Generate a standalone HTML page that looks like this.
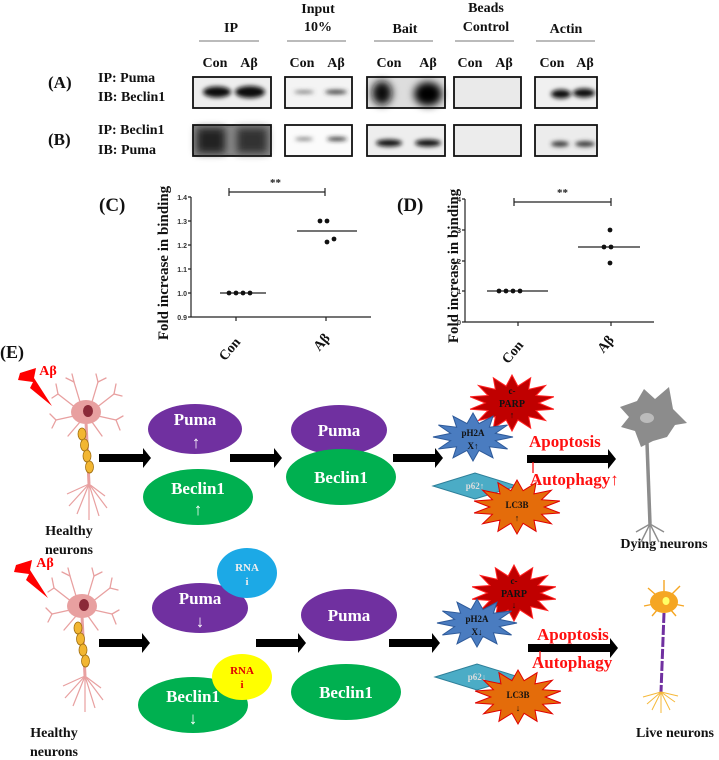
<!DOCTYPE html>
<html><head><meta charset="utf-8"><style>
html,body{margin:0;padding:0;background:#fff;overflow:hidden}
svg{display:block}
text{font-family:"Liberation Serif",serif;font-weight:bold}
</style></head><body>
<svg id="s" width="719" height="760" viewBox="0 0 719 760" xmlns="http://www.w3.org/2000/svg">
<defs>
<filter id="bl" x="-50%" y="-50%" width="200%" height="200%"><feGaussianBlur stdDeviation="2"/></filter>
<filter id="bl2" x="-50%" y="-50%" width="200%" height="200%"><feGaussianBlur stdDeviation="4"/></filter>
</defs>
<g font-size="14" text-anchor="middle" fill="#111">
<text x="231" y="32">IP</text>
<text x="318" y="13">Input</text><text x="318" y="31">10%</text>
<text x="405" y="33">Bait</text>
<text x="486" y="12">Beads</text><text x="486" y="31">Control</text>
<text x="566" y="33">Actin</text>
</g>
<g stroke="#777" stroke-width="1">
<line x1="199" y1="41" x2="259" y2="41"/><line x1="287" y1="41" x2="346" y2="41"/>
<line x1="374" y1="41" x2="433" y2="41"/><line x1="455" y1="41" x2="514" y2="41"/>
<line x1="536" y1="41" x2="595" y2="41"/>
</g>
<g font-size="14" fill="#111" text-anchor="middle">
<text x="215" y="67">Con</text><text x="249" y="67">Aβ</text>
<text x="302" y="67">Con</text><text x="336" y="67">Aβ</text>
<text x="389" y="67">Con</text><text x="428" y="67">Aβ</text>
<text x="470" y="67">Con</text><text x="504" y="67">Aβ</text>
<text x="552" y="67">Con</text><text x="585" y="67">Aβ</text>
</g>
<g font-size="17" fill="#111"><text x="48" y="88">(A)</text><text x="48" y="145">(B)</text></g>
<g font-size="14" fill="#111">
<text x="98" y="82">IP: Puma</text><text x="98" y="101">IB: Beclin1</text>
<text x="98" y="134">IP: Beclin1</text><text x="98" y="154">IB: Puma</text>
</g>
<g stroke="#111" stroke-width="1.8">
<rect x="193" y="77" width="78" height="31" fill="#eee"/>
<rect x="285" y="77" width="67" height="31" fill="#f4f4f4"/>
<rect x="367" y="77" width="78" height="31" fill="#ddd"/>
<rect x="454" y="77" width="67" height="31" fill="#eaeaea"/>
<rect x="535" y="77" width="62" height="31" fill="#f0f0f0"/>
<rect x="193" y="125" width="78" height="31" fill="#888"/>
<rect x="285" y="125" width="67" height="31" fill="#fbfbfb"/>
<rect x="367" y="125" width="78" height="31" fill="#eee"/>
<rect x="454" y="125" width="67" height="31" fill="#ececec"/>
<rect x="535" y="125" width="62" height="31" fill="#ececec"/>
</g>
<g fill="#111" filter="url(#bl)">
<ellipse cx="217" cy="92" rx="14" ry="5.5"/><ellipse cx="250" cy="92" rx="15" ry="6"/>
<ellipse cx="304" cy="92" rx="10" ry="1.3" fill="#555"/><ellipse cx="336" cy="92" rx="11" ry="2" fill="#333"/>
<ellipse cx="561" cy="94" rx="10" ry="4.5"/><ellipse cx="584" cy="93" rx="11" ry="4.5"/>
<ellipse cx="389" cy="143" rx="13" ry="3.5"/><ellipse cx="428" cy="143" rx="13" ry="3.5"/>
<ellipse cx="304" cy="139" rx="9" ry="1.3" fill="#555"/><ellipse cx="337" cy="139" rx="10" ry="1.8" fill="#222"/>
<ellipse cx="560" cy="144" rx="9" ry="2.7" fill="#333"/><ellipse cx="585" cy="144" rx="10" ry="2.7" fill="#333"/>
</g>
<g filter="url(#bl2)">
<ellipse cx="382" cy="93" rx="10" ry="12" fill="#111"/><ellipse cx="428" cy="94" rx="14" ry="12" fill="#000"/>
<rect x="197" y="128" width="28" height="25" fill="#222"/><rect x="237" y="128" width="30" height="25" fill="#333"/>
</g>
<g font-size="7" fill="#333" text-anchor="end">
<text x="187" y="200" style="font-family:'Liberation Sans'">1.4</text>
<text x="187" y="224" style="font-family:'Liberation Sans'">1.3</text>
<text x="187" y="248" style="font-family:'Liberation Sans'">1.2</text>
<text x="187" y="272" style="font-family:'Liberation Sans'">1.1</text>
<text x="187" y="296" style="font-family:'Liberation Sans'">1.0</text>
<text x="187" y="320" style="font-family:'Liberation Sans'">0.9</text>
<text x="461" y="202" style="font-family:'Liberation Sans'">4</text>
<text x="461" y="233" style="font-family:'Liberation Sans'">3</text>
<text x="461" y="264" style="font-family:'Liberation Sans'">2</text>
<text x="461" y="294" style="font-family:'Liberation Sans'">1</text>
<text x="461" y="325" style="font-family:'Liberation Sans'">0</text>
</g>
<g stroke="#222" stroke-width="1.2" fill="none">
<path d="M191 197V317H371M188 197h3M188 221h3M188 245h3M188 269h3M188 293h3M188 317h3M236 317v4M326 317v4"/>
<path d="M220 293H266M297 231H357M229 188v8M229 192H325M325 188v8"/>
<path d="M465 199V322H654M462 199h3M462 230h3M462 261h3M462 291h3M462 322h3M518 322v4M611 322v4"/>
<path d="M487 291H548M578 247H640M514 198v8M514 202H611M611 198v8"/>
</g>
<g fill="#111">
<circle cx="229" cy="293" r="2.4"/><circle cx="236" cy="293" r="2.4"/><circle cx="243" cy="293" r="2.4"/><circle cx="250" cy="293" r="2.4"/>
<circle cx="320" cy="221" r="2.4"/><circle cx="327" cy="221" r="2.4"/><circle cx="327" cy="242" r="2.4"/><circle cx="334" cy="239" r="2.4"/>
<circle cx="499" cy="291" r="2.4"/><circle cx="506" cy="291" r="2.4"/><circle cx="513" cy="291" r="2.4"/><circle cx="520" cy="291" r="2.4"/>
<circle cx="610" cy="230" r="2.4"/><circle cx="604" cy="247" r="2.4"/><circle cx="611" cy="247" r="2.4"/><circle cx="610" cy="263" r="2.4"/>
</g>
<g font-size="11" fill="#222"><text x="270" y="186">**</text><text x="557" y="196">**</text></g>
<g font-size="19" fill="#111"><text x="99" y="211">(C)</text><text x="397" y="211">(D)</text></g>
<g fill="#111" text-anchor="middle">
<text font-size="15" transform="translate(168 263) rotate(-90)">Fold increase in binding</text>
<text font-size="15" transform="translate(458 266) rotate(-90)">Fold increase in binding</text>
<text font-size="14" transform="translate(233 352) rotate(-50)">Con</text>
<text font-size="14" transform="translate(325 345) rotate(-50)">Aβ</text>
<text font-size="14" transform="translate(516 355) rotate(-50)">Con</text>
<text font-size="14" transform="translate(609 347) rotate(-50)">Aβ</text>
</g>
<text x="0" y="358" font-size="18" fill="#111">(E)</text>
<g fill="#000">
<path d="M99 454h44v-6l8 10-8 10v-6h-44z"/>
<path d="M230 454h44v-6l8 10-8 10v-6h-44z"/>
<path d="M393 454h42v-6l8 10-8 10v-6h-42z"/>
<path d="M527 455h81v-6l8 10-8 10v-6h-81z"/>
<path d="M99 639h43v-6l8 10-8 10v-6h-43z"/>
<path d="M256 639h42v-6l8 10-8 10v-6h-42z"/>
<path d="M389 639h43v-6l8 10-8 10v-6h-43z"/>
<path d="M528 644h82v-6l8 10-8 10v-6h-82z"/>
</g>
<ellipse cx="195" cy="429" rx="47" ry="25" fill="#7030a0"/>
<ellipse cx="198" cy="497" rx="55" ry="28" fill="#00b050"/>
<ellipse cx="339" cy="430" rx="48" ry="25" fill="#7030a0"/>
<ellipse cx="341" cy="477" rx="55" ry="28" fill="#00b050"/>
<g fill="#fff" font-size="17" text-anchor="middle">
<text x="195" y="425">Puma</text><text x="196" y="448">↑</text>
<text x="198" y="494">Beclin1</text><text x="198" y="515">↑</text>
<text x="339" y="436">Puma</text><text x="341" y="483">Beclin1</text>
</g>
<ellipse cx="200" cy="608" rx="48" ry="25" fill="#7030a0"/>
<ellipse cx="193" cy="705" rx="55" ry="28" fill="#00b050"/>
<ellipse cx="349" cy="615" rx="48" ry="26" fill="#7030a0"/>
<ellipse cx="346" cy="692" rx="55" ry="28" fill="#00b050"/>
<ellipse cx="247" cy="573" rx="30" ry="25" fill="#1ca9e6"/>
<ellipse cx="242" cy="677" rx="30" ry="23" fill="#ffff00"/>
<g fill="#fff" font-size="17" text-anchor="middle">
<text x="200" y="604">Puma</text><text x="200" y="627">↓</text>
<text x="193" y="702">Beclin1</text><text x="193" y="724">↓</text>
<text x="349" y="621">Puma</text><text x="346" y="698">Beclin1</text>
</g>
<g font-size="11" text-anchor="middle"><text x="247" y="571" fill="#eee">RNA</text><text x="247" y="585" fill="#eee">i</text>
<text x="242" y="674" fill="#e00000">RNA</text><text x="242" y="688" fill="#e00000">i</text></g>
<g id="stars"></g>
<g font-size="17" fill="#ff1010">
<text x="529" y="447">Apoptosis</text><text x="530" y="485">Autophagy↑</text>
<text x="537" y="640">Apoptosis</text><text x="532" y="668">Autophagy</text>
</g>
<g stroke="#ff1010" stroke-width="1.3"><line x1="533" y1="462" x2="533" y2="473"/><line x1="540" y1="651" x2="540" y2="663"/></g>
<g font-size="14" fill="#111" text-anchor="middle">
<text x="69" y="535">Healthy</text><text x="69" y="554">neurons</text>
<text x="664" y="548">Dying neurons</text>
<text x="54" y="737">Healthy</text><text x="54" y="756">neurons</text>
<text x="675" y="737">Live neurons</text>
</g>
</svg>
<script>
var NS="http://www.w3.org/2000/svg",S=document.getElementById('s');
function el(t,a,p){var e=document.createElementNS(NS,t);for(var k in a)e.setAttribute(k,a[k]);(p||S).appendChild(e);return e;}
function star(cx,cy,n,rx,ry,k,fill,stroke){var p=[];for(var i=0;i<2*n;i++){var f=i%2?k:1,a=Math.PI*i/n-Math.PI/2;p.push((cx+rx*f*Math.cos(a)).toFixed(1)+','+(cy+ry*f*Math.sin(a)).toFixed(1));}
el('polygon',{points:p.join(' '),fill:fill,stroke:stroke,'stroke-width':1});}
function txt(x,y,s,sz,c){var t=el('text',{x:x,y:y,'font-size':sz,fill:c,'text-anchor':'middle'});t.textContent=s;}
function block(px,py,hx,hy,dx,dy,lx,ly,up){
 star(px,py,14,43,28,0.62,'#c00000','#ff2020');
 txt(px,py-9,'c-',9,'#111');txt(px,py+4,'PARP',10,'#111');txt(px,py+15,up?'↑':'↓',9,'#111');
 star(hx,hy,12,40,24,0.58,'#4a7cc0','#2e5a9a');
 txt(hx,hy-1,'pH2A',9,'#111');txt(hx,hy+12,up?'X↑':'X↓',9,'#111');
 el('polygon',{points:(dx-42)+','+dy+' '+dx+','+(dy-13)+' '+(dx+42)+','+dy+' '+dx+','+(dy+13),fill:'#4bacc6',stroke:'#2e7f99'});
 txt(dx,dy+3,up?'p62↑':'p62↓',9,'#ddd');
 star(lx,ly,14,44,27,0.62,'#e46c0a','#e00000');
 txt(lx,ly+1,'LC3B',9,'#111');txt(lx,ly+14,up?'↑':'↓',9,'#111');
}
block(512,403,473,437,475,486,517,507,1);
block(514,593,477,623,477,677,518,697,0);
function neuron(ox,oy,bot,col){
 var g=el('g',{stroke:col,fill:'none','stroke-width':1.3,'stroke-linecap':'round'});
 var d=[[-6,-10,-12,-30],[-12,-30,-20,-34],[-12,-30,-14,-38],[6,-10,12,-30],[12,-30,20,-34],[12,-30,10,-38],[-10,-4,-28,-18],[-28,-18,-34,-14],[-28,-18,-30,-28],[10,-4,28,-18],[28,-18,36,-16],[28,-18,30,-28],[-12,4,-30,8],[-30,8,-36,2],[-30,8,-34,16],[12,4,30,8],[30,8,37,4],[30,8,34,18],[-6,10,-18,24],[6,10,16,24]];
 d.forEach(function(l){el('line',{x1:ox+l[0],y1:oy+l[1],x2:ox+l[2],y2:oy+l[3]},g);});
 el('ellipse',{cx:ox,cy:oy,rx:15,ry:12,fill:col,stroke:'none'});
 el('ellipse',{cx:ox+2,cy:oy-1,rx:5,ry:6,fill:'#8b2a38'});
 el('path',{d:'M'+ox+' '+(oy+10)+' L'+(ox+3)+' '+bot,stroke:col,'stroke-width':3});
 var g2=el('g',{stroke:col,fill:'none','stroke-width':1.2});
 [[-20,22],[-12,30],[0,36],[10,32],[18,24],[-22,10],[16,12]].forEach(function(q){el('line',{x1:ox+3,y1:bot,x2:ox+3+q[0],y2:bot+q[1]},g2);});
 for(var i=0;i<4;i++)el('ellipse',{cx:ox-4+i*2.5,cy:oy+22+i*11,rx:4,ry:6,fill:'#f2b632',stroke:'#a06e10','stroke-width':0.8});
}
neuron(86,412,484,'#e8a0a0');
neuron(82,606,676,'#e8a0a0');
function bolt(x,y){el('polygon',{points:[x,y+5,x+16,y,x+14,y+10,x+32,y+38,x+10,y+20,x+13,y+14,x-2,y+12].join(','),fill:'#ff0000'});}
bolt(20,368);bolt(16,560);
txt(48,375,'Aβ',14,'#ff0000');txt(45,567,'Aβ',14,'#ff0000');
(function(){var ox=647,oy=419,c='#8c8c8c';
 el('path',{d:'M'+(ox-3)+' '+(oy-30)+' L'+(ox-10)+' '+(oy-18)+' L'+(ox-27)+' '+(oy-12)+' L'+(ox-18)+' '+(oy-2)+' L'+(ox-26)+' '+(oy+8)+' L'+(ox-12)+' '+(oy+12)+' L'+(ox-6)+' '+(oy+28)+' L'+(ox+6)+' '+(oy+22)+' L'+(ox+20)+' '+(oy+18)+' L'+(ox+28)+' '+(oy+6)+' L'+(ox+40)+' '+(oy+4)+' L'+(ox+26)+' '+(oy-10)+' L'+(ox+22)+' '+(oy-32)+' L'+(ox+8)+' '+(oy-20)+' Z',fill:c});
 el('ellipse',{cx:ox,cy:oy-1,rx:7,ry:5,fill:'#bbb'});
 el('path',{d:'M'+ox+' '+(oy+24)+' L'+(ox+3)+' '+(oy+105),stroke:c,'stroke-width':3.5});
 var g=el('g',{stroke:c,'stroke-width':1.4});[[-14,8],[14,8],[-9,18],[9,18],[0,20]].forEach(function(q){el('line',{x1:ox+3,y1:oy+105,x2:ox+3+q[0],y2:oy+105+q[1]},g);});
})();
(function(){var ox=664,oy=602,c='#f5a623';
 var g=el('g',{stroke:c,'stroke-width':1.4});[[-16,-14],[16,-16],[-20,4],[20,4],[0,-22],[-12,14],[12,14]].forEach(function(q){el('line',{x1:ox,y1:oy,x2:ox+q[0],y2:oy+q[1]},g);});
 el('ellipse',{cx:ox,cy:oy,rx:14,ry:11,fill:c});el('ellipse',{cx:ox+2,cy:oy-1,rx:3.5,ry:4,fill:'#ffff66'});
 el('path',{d:'M'+ox+' '+(oy+11)+' L'+(ox-3)+' '+(oy+90),stroke:'#7030a0','stroke-width':3,'stroke-dasharray':'10 2'});
 var g2=el('g',{stroke:'#f5b83a','stroke-width':1});[[-14,12],[-9,18],[0,21],[9,18],[14,10],[-18,5],[17,4]].forEach(function(q){el('line',{x1:ox-3,y1:oy+90,x2:ox-3+q[0],y2:oy+90+q[1]},g2);});
})();
</script>
</body></html>
